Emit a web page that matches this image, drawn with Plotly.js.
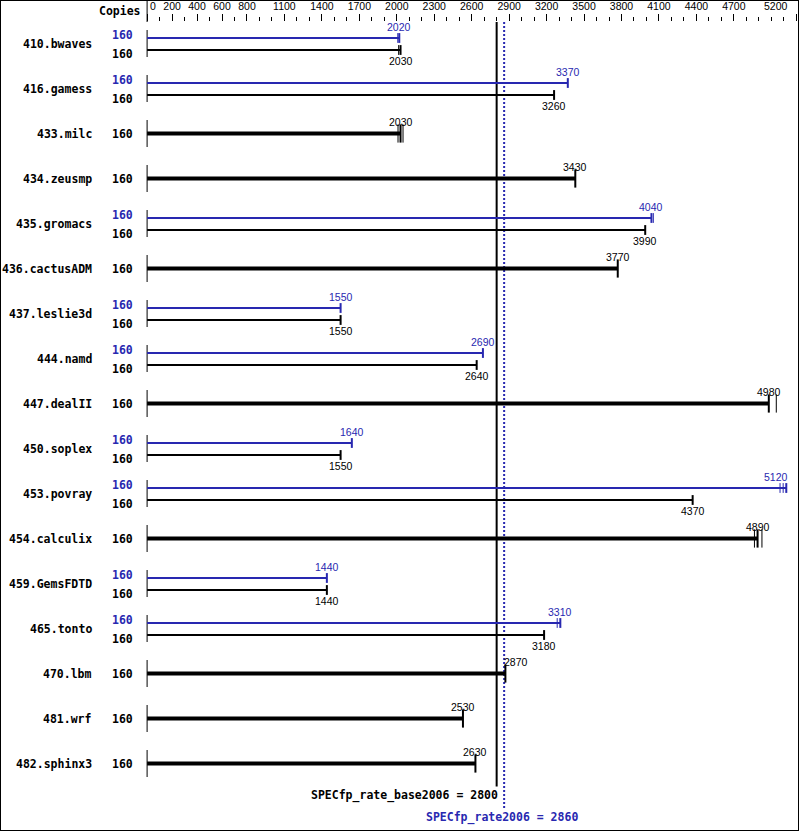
<!DOCTYPE html>
<html><head><meta charset="utf-8">
<script src="https://cdn.plot.ly/plotly-3.0.1.min.js"></script>
<style>
html,body{margin:0;padding:0;background:#fff;}
#frame{width:799px;height:831px;box-sizing:border-box;border:1px solid #000;overflow:hidden;}
#chart{width:797px;height:829px;}
</style></head><body>
<div id="frame"><div id="chart"></div></div>
<script>
const benchmarks = ['410.bwaves','416.gamess','433.milc','434.zeusmp','435.gromacs','436.cactusADM','437.leslie3d','444.namd','447.dealII','450.soplex','453.povray','454.calculix','459.GemsFDTD','465.tonto','470.lbm','481.wrf','482.sphinx3'];
const baseCopies = [160,160,160,160,160,160,160,160,160,160,160,160,160,160,160,160,160];
const peakCopies = [160,160,null,null,160,null,160,160,null,160,160,null,160,160,null,null,null];
const baseValues = [2030,3260,2030,3430,3990,3770,1550,2640,4980,1550,4370,4890,1440,3180,2870,2530,2630];
const peakValues = [2020,3370,null,null,4040,null,1550,2690,null,1640,5120,null,1440,3310,null,null,null];
const baseExtraRuns = [[2015],[],[2010,2050],[],[],[],[],[],[5040],[],[],[4865,4925],[],[],[],[],[]];
const peakExtraRuns = [[2008],[],[],[],[4055],[],[],[],[],[],[5070,5095],[],[],[3285],[],[],[]];
const tickVals = [0,200,400,600,800,1100,1400,1700,2000,2300,2600,2900,3200,3500,3800,4100,4400,4700,5200];
const baseMetric = 2800;
const peakMetric = 2860;
const baseMetricLabel = 'SPECfp_rate_base2006 = 2800';
const peakMetricLabel = 'SPECfp_rate2006 = 2860';
const copiesTitle = 'Copies';

const BLUE = 'rgb(40,40,176)';
const BLACK = '#000';
const MONO = 'DejaVu Sans Mono';
const SANS = 'Liberation Sans';
const rowY = i => 43.5 + 45 * i;

const traces = [];
const annotations = [];

function addBar(xs, ys, color, width) {
  traces.push({type:'scatter', mode:'lines', x:xs, y:ys, line:{color:color, width:width}, hoverinfo:'skip'});
}
function addTicks(xs, ys, color, size, width) {
  traces.push({type:'scatter', mode:'markers', x:xs, y:ys, cliponaxis:false,
    marker:{symbol:'line-ns', size:size, color:color, line:{color:color, width:width}}, hoverinfo:'skip'});
}

const rowX=[], rowYs=[];
const thinBlueX=[], thinBlueY=[], thinBlackX=[], thinBlackY=[], thickX=[], thickY=[];
const tBlueMX=[], tBlueMY=[], tBlueEX=[], tBlueEY=[];
const tBlackMX=[], tBlackMY=[], tBlackEX=[], tBlackEY=[];
const tThickMX=[], tThickMY=[], tThickEX=[], tThickEY=[];

function valueLabel(v, y, color) {
  let xanchor = 'center', xshift = 0;
  if (v > 5000 && color === BLUE) { xanchor = 'right'; xshift = 4; }
  else if (Math.abs(v - baseMetric) < 100) { xanchor = 'left'; xshift = -3; }
  annotations.push({xref:'x', yref:'y', x:v, y:y, text:String(v), showarrow:false,
    xanchor:xanchor, yanchor:'middle', xshift:xshift, font:{family:SANS, size:10.5, color:color}});
}
function leftLabel(text, y, color, xshift) {
  annotations.push({xref:'paper', yref:'y', x:0, y:y, text:text, showarrow:false,
    xanchor:'right', yanchor:'middle', xshift:xshift, font:{family:MONO, size:11.5, color:color}});
}

benchmarks.forEach((name, i) => {
  const c = rowY(i);
  rowX.push(0, 0, null); rowYs.push(c - 13.5, c + 13.5, null);
  leftLabel('<b>' + name + '</b>', c, BLACK, -47);
  if (peakValues[i] !== null) {
    const yb = c - 5.5, yk = c + 6.5;
    thinBlueX.push(0, peakValues[i], null); thinBlueY.push(yb, yb, null);
    thinBlackX.push(0, baseValues[i], null); thinBlackY.push(yk, yk, null);
    tBlueMX.push(peakValues[i]); tBlueMY.push(yb);
    peakExtraRuns[i].forEach(r => { tBlueEX.push(r); tBlueEY.push(yb); });
    tBlackMX.push(baseValues[i]); tBlackMY.push(yk);
    baseExtraRuns[i].forEach(r => { tBlackEX.push(r); tBlackEY.push(yk); });
    valueLabel(peakValues[i], c - 16.5, BLUE);
    valueLabel(baseValues[i], c + 17.5, BLACK);
    leftLabel('<b>' + peakCopies[i] + '</b>', c - 8.5, BLUE, -6);
    leftLabel('<b>' + baseCopies[i] + '</b>', c + 10, BLACK, -6);
  } else {
    thickX.push(0, baseValues[i], null); thickY.push(c, c, null);
    tThickMX.push(baseValues[i]); tThickMY.push(c);
    baseExtraRuns[i].forEach(r => { tThickEX.push(r); tThickEY.push(c); });
    valueLabel(baseValues[i], c - 11.5, BLACK);
    leftLabel('<b>' + baseCopies[i] + '</b>', c, BLACK, -6);
  }
});

addBar(rowX, rowYs, BLACK, 1);
const lastRow = rowY(benchmarks.length - 1);
addBar([baseMetric, baseMetric], [22, lastRow + 23], BLACK, 2);
traces.push({type:'scatter', mode:'lines', x:[peakMetric, peakMetric], y:[22, lastRow + 45],
  line:{color:BLUE, width:2, dash:'2px,2px'}, hoverinfo:'skip'});
addBar(thinBlueX, thinBlueY, BLUE, 2);
addBar(thinBlackX, thinBlackY, BLACK, 2);
addBar(thickX, thickY, BLACK, 4);
addTicks(tBlueMX, tBlueMY, BLUE, 7, 2);
addTicks(tBlueEX, tBlueEY, BLUE, 7, 1);
addTicks(tBlackMX, tBlackMY, BLACK, 7, 2);
addTicks(tBlackEX, tBlackEY, BLACK, 7, 1);
addTicks(tThickMX, tThickMY, BLACK, 13, 2);
addTicks(tThickEX, tThickEY, BLACK, 13, 1);

annotations.push({xref:'x', yref:'y', x:baseMetric, y:lastRow + 31.5, text:'<b>' + baseMetricLabel + '</b>',
  showarrow:false, xanchor:'right', yanchor:'middle', xshift:3, font:{family:MONO, size:11.5, color:BLACK}});
annotations.push({xref:'x', yref:'y', x:peakMetric, y:lastRow + 53.5, text:'<b>' + peakMetricLabel + '</b>',
  showarrow:false, xanchor:'center', yanchor:'middle', xshift:-2, font:{family:MONO, size:11.5, color:BLUE}});
annotations.push({xref:'paper', yref:'paper', x:0, y:1 + 11/808, text:'<b>' + copiesTitle + '</b>',
  showarrow:false, xanchor:'right', yanchor:'middle', xshift:2, font:{family:MONO, size:11.5, color:BLACK}});

const NB = '\u00a0';
const tickText = tickVals.map(String);
tickText[0] = NB.repeat(4) + tickText[0];
// last tick label does not fit centred at the right edge: draw it right-aligned just left of its tick
const lastTick = tickVals[tickVals.length - 1];
tickText[tickText.length - 1] = '';
annotations.push({xref:'x', yref:'paper', x:lastTick, y:1 + 15.5/808, text:String(lastTick),
  showarrow:false, xanchor:'right', yanchor:'middle', xshift:-6, font:{family:SANS, size:10.5, color:BLACK}});

const S = 0.12484;
const layout = {
  width:797, height:829,
  margin:{l:140, r:1, t:21, b:0, pad:0},
  paper_bgcolor:'#fff', plot_bgcolor:'#fff',
  showlegend:false, hovermode:false,
  xaxis:{range:[-6.1 / S, (656 - 6.1) / S], side:'top', showgrid:false, zeroline:false, showline:false,
    ticks:'outside', ticklen:7, tickwidth:1, tickcolor:BLACK,
    tickmode:'array', tickvals:tickVals, ticktext:tickText,
    tickfont:{family:SANS, size:10.5, color:BLACK},
    minor:{tick0:0, dtick:100, ticks:'outside', ticklen:4, tickwidth:1, tickcolor:BLACK, showgrid:false},
    fixedrange:true},
  yaxis:{range:[830, 22], showgrid:false, zeroline:false, showline:false, showticklabels:false, ticks:'', fixedrange:true},
  shapes:[{type:'line', xref:'x', yref:'paper', x0:0, x1:0, y0:1, y1:1 + 22/808, line:{color:BLACK, width:1}}],
  annotations:annotations
};
Plotly.newPlot('chart', traces, layout, {staticPlot:true, displayModeBar:false});
</script></body></html>
